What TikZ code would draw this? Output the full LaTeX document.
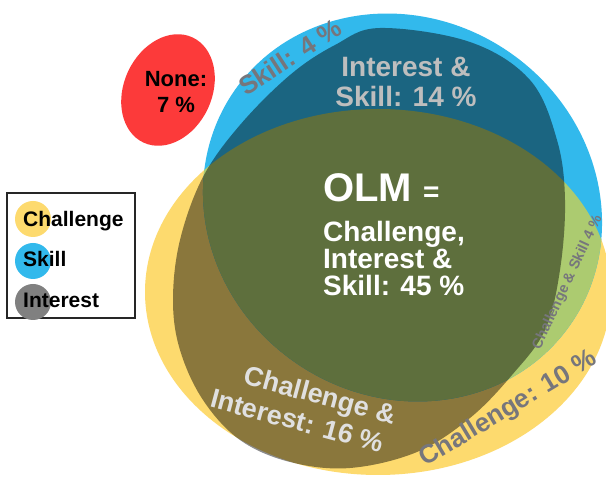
\documentclass[tikz,border=0pt]{standalone}
\usepackage{fontspec}
\setmainfont{Liberation Sans}

\definecolor{chalyellow}{RGB}{253,218,110}
\definecolor{skillblue}{RGB}{50,185,236}
\definecolor{bothgreen}{RGB}{172,203,112}
\definecolor{nonered}{RGB}{252,58,58}
\definecolor{keygray}{RGB}{128,128,128}
\definecolor{darklbl}{RGB}{118,118,124}
\definecolor{midlbl}{RGB}{190,190,190}
\definecolor{palelbl}{RGB}{224,224,224}

\begin{document}
\begin{tikzpicture}[x=1pt, y=1pt,
	keydot/.style={circle, minimum size=36pt, inner sep=0pt},
	keytxt/.style={anchor=base west, inner sep=0pt, font=\fontsize{21}{21}\selectfont\bfseries},
	midtxt/.style={inner sep=0pt, font=\fontsize{28}{30}\selectfont\bfseries},
	tilttxt/.style={anchor=base, inner sep=0pt, rotate=#1}]
	%\draw[help lines] (0,0) grid[step=50] (606,477);
	\useasboundingbox (0,0) rectangle (606,477);
	\fill[white] (0,0) rectangle (606,477);
	\coordinate (chal) at (378,185);
	\coordinate (skill) at (402.5,269.5);
	\coordinate (none) at (168,387);
	% challenge and skill
	\fill[chalyellow] (chal) ellipse [x radius=233, y radius=183];
	\fill[skillblue, rotate around={-35:(skill)}] (skill) ellipse [x radius=204.7, y radius=188.5];
	\begin{scope}
		\clip (chal) ellipse [x radius=233, y radius=183];
		\fill[bothgreen, rotate around={-35:(skill)}] (skill) ellipse [x radius=204.7, y radius=188.5];
	\end{scope}
	% interest
	\fill[black, opacity=.45] plot[smooth cycle, tension=.6] coordinates {
		(380,449) (470,435) (530,397) (557,337) (565,277) (560,207) (545,147)
		(512,102) (470,59) (417,25) (350,9) (290,15) (240,37) (203,77)
		(180,127) (173,177) (180,237) (203,300) (240,352) (290,402) (335,432)};
	% none
	\fill[nonered, rotate around={-25:(none)}] (none) ellipse [x radius=44, y radius=58];

	\node (nonetxt) [align=center, inner sep=0pt, font=\fontsize{22}{26}\selectfont\bfseries] at (176,385) {None:\\7 \%};
	\node (isk) [midtxt, align=center, text=midlbl] at (406,395) {Interest \&\\Skill: 14 \%};
	\node (olm) [anchor=base west, inner sep=0pt, text=white, font=\fontsize{40}{40}\selectfont\bfseries] at (323,275) {OLM {\fontsize{28}{28}\selectfont =}};
	\node (olmtxt) [midtxt, align=left, anchor=north west, text=white, font=\fontsize{28}{27}\selectfont\bfseries] at (323,255.5) {Challenge,\\Interest \&\\Skill: 45 \%};

	\node (sk) [tilttxt=33, text=darklbl, font=\fontsize{26}{26}\selectfont\bfseries] at (295,412) {Skill: 4 \%};
	\node (ch) [tilttxt=31, text=darklbl, font=\fontsize{26}{26}\selectfont\bfseries] at (512,62) {Challenge: 10 \%};
	\node (chsk) [tilttxt=65, text=darklbl, font=\fontsize{14.5}{14.5}\selectfont\bfseries] at (571,193) {Challenge \& Skill 4 \%};
	\node (chin) [tilttxt=-15, text=palelbl, font=\fontsize{27}{27}\selectfont\bfseries] at (318,73) {Challenge \&};
	\node (inch) [tilttxt=-15, text=palelbl, font=\fontsize{27}{27}\selectfont\bfseries] at (295,47) {Interest: 16 \%};

	% key
	\node (key) [draw=black!85, line width=1.2pt, minimum width=128pt, minimum height=125pt, inner sep=0pt] at (71,221.5) {};
	\node (kchal) [keydot, fill=chalyellow] at (33,258) {};
	\node (kskill) [keydot, fill=skillblue] at (33,216) {};
	\node (kint) [keydot, fill=keygray] at (33,175) {};
	\node (kchaltxt) [keytxt] at (23,250) {Challenge};
	\node (kskilltxt) [keytxt] at (23,210) {Skill};
	\node (kinttxt) [keytxt] at (23,169) {Interest};
\end{tikzpicture}
\end{document}
